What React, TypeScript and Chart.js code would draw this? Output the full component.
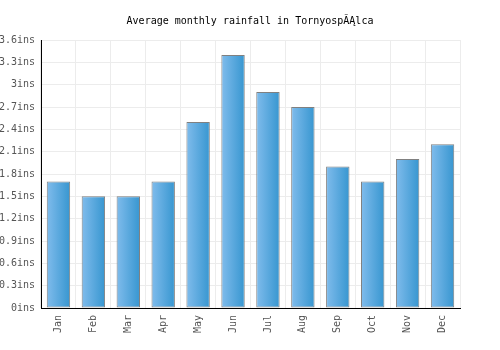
import React, { useEffect, useRef } from "react";
import { Chart, registerables } from "chart.js";

Chart.register(...registerables);

const months = ["Jan", "Feb", "Mar", "Apr", "May", "Jun", "Jul", "Aug", "Sep", "Oct", "Nov", "Dec"];
const rainfall = [1.7, 1.5, 1.5, 1.7, 2.5, 3.4, 2.9, 2.7, 1.9, 1.7, 2.0, 2.2];
const title = "Average monthly rainfall in TornyospÃĄlca";
const yMax = 3.6;
const yStep = 0.3;

const FONT = "'DejaVu Sans Mono', 'Liberation Mono', monospace";

export default function App() {
  const ref = useRef<HTMLCanvasElement | null>(null);

  useEffect(() => {
    document.body.style.margin = "0";
    const canvas = ref.current;
    if (!canvas) return;
    const barPct = 0.67;
    const chart = new Chart(canvas, {
      type: "bar",
      data: {
        labels: months,
        datasets: [
          {
            data: rainfall,
            borderColor: "#808080",
            borderWidth: 1,
            borderSkipped: false,
            categoryPercentage: 1,
            barPercentage: barPct,
            backgroundColor: (ctx: any) => {
              const c = ctx.chart;
              const xs = c.scales?.x;
              if (!xs || ctx.dataIndex === undefined) return "#5aaae0";
              const center = xs.getPixelForValue(ctx.dataIndex);
              const cw = (xs.right - xs.left) / months.length;
              const w = cw * barPct;
              const x0 = center - w / 2;
              const x1 = center + w / 2;
              if (!isFinite(x0) || !isFinite(x1) || x1 <= x0) return "#5aaae0";
              const g = c.ctx.createLinearGradient(x0, 0, x1, 0);
              g.addColorStop(0, "#80bcec");
              g.addColorStop(1, "#3796d0");
              return g;
            },
          },
        ],
      },
      options: {
        animation: false,
        responsive: false,
        maintainAspectRatio: false,
        layout: { padding: 0 },
        plugins: {
          legend: { display: false },
          tooltip: { enabled: false },
          title: {
            display: true,
            text: title,
            color: "#000",
            font: { family: FONT, size: 10, weight: "normal" },
            padding: { top: 15, bottom: 13 },
          },
        },
        scales: {
          x: {
            grid: { color: "#ececec", drawTicks: false, offset: true },
            border: { color: "#000", width: 1 },
            ticks: {
              color: "#555",
              font: { family: FONT, size: 10 },
              minRotation: 90,
              maxRotation: 90,
              padding: 7,
            },
            afterFit: (s: any) => {
              s.height = 42;
            },
          },
          y: {
            min: 0,
            max: yMax,
            grid: { color: "#ececec", drawTicks: false },
            border: { color: "#000", width: 1 },
            ticks: {
              stepSize: yStep,
              color: "#555",
              font: { family: FONT, size: 10 },
              padding: 6,
              callback: (v: any) => `${Math.round(Number(v) * 10) / 10}ins`,
            },
            afterFit: (s: any) => {
              s.width = 41;
            },
          },
          yRight: {
            position: "right",
            min: 0,
            max: yMax,
            grid: { display: false, drawTicks: false },
            border: { display: false },
            ticks: { display: false },
            afterFit: (s: any) => {
              s.width = 40;
            },
          },
        },
      },
    });
    return () => chart.destroy();
  }, []);

  return (
    <div style={{ width: 500, height: 350 }}>
      <canvas ref={ref} width={500} height={350} />
    </div>
  );
}
